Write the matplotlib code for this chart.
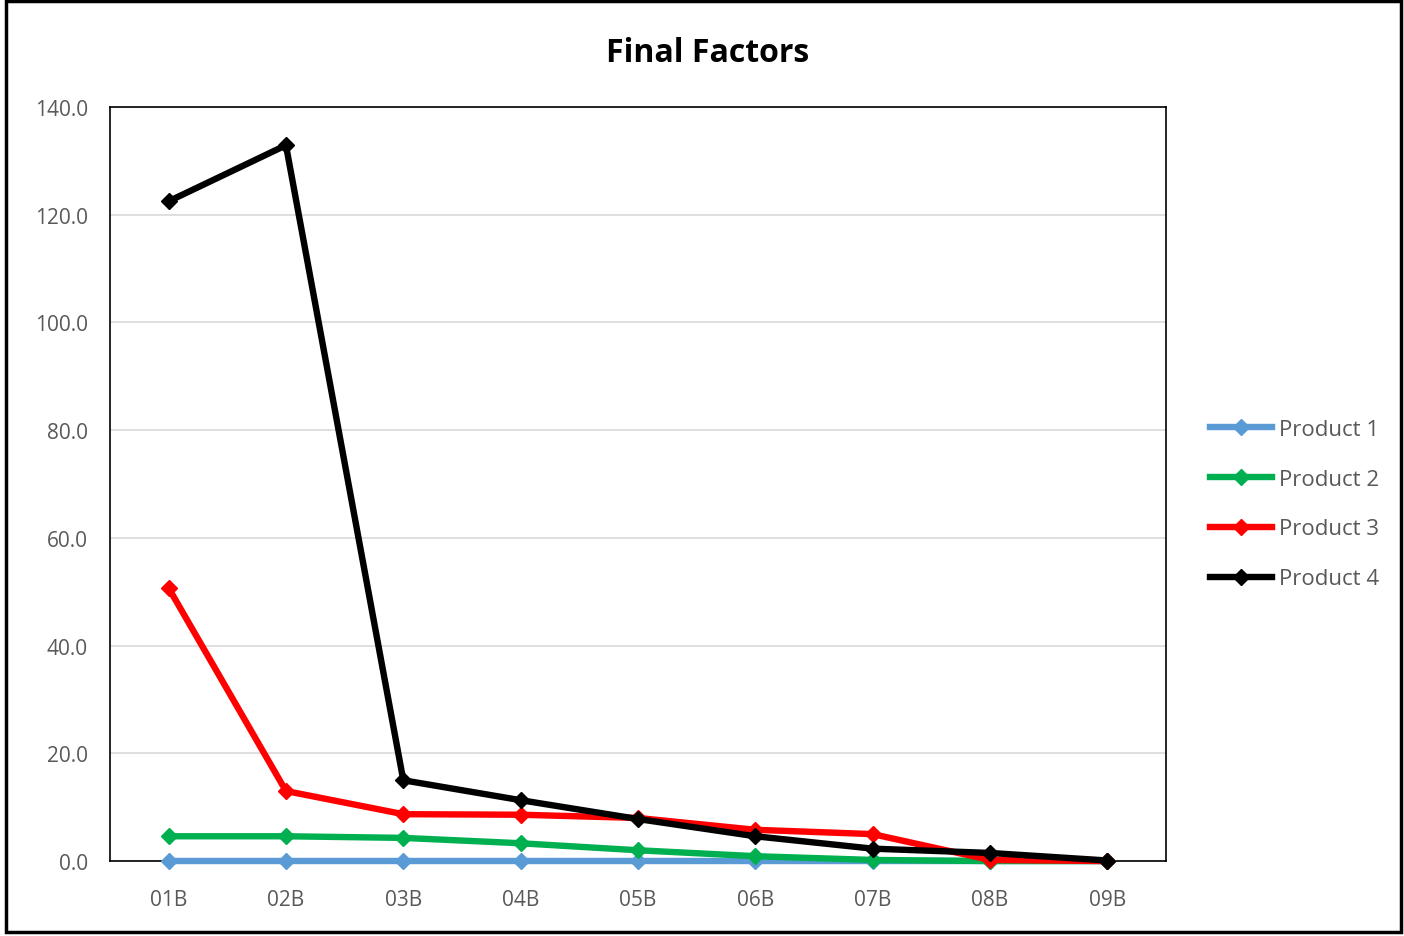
import matplotlib.pyplot as plt
from matplotlib.patches import Rectangle

categories = ["01B", "02B", "03B", "04B", "05B", "06B", "07B", "08B", "09B"]
product_1 = [0.1, 0.1, 0.1, 0.1, 0.1, 0.1, 0.1, 0.1, 0.1]
product_2 = [4.6, 4.6, 4.3, 3.3, 2.0, 0.9, 0.2, 0.0, 0.0]
product_3 = [50.7, 13.0, 8.7, 8.6, 8.0, 5.8, 5.0, 0.2, 0.0]
product_4 = [122.5, 132.9, 15.0, 11.3, 7.8, 4.6, 2.3, 1.5, 0.1]

series = [
    ("Product 1", product_1, "#5b9bd5"),
    ("Product 2", product_2, "#00b050"),
    ("Product 3", product_3, "#ff0000"),
    ("Product 4", product_4, "#000000"),
]

plt.rcParams["font.family"] = ["Open Sans", "DejaVu Sans"]

fig = plt.figure(figsize=(14.04, 9.37), dpi=100)
ax = fig.add_axes([0.0783, 0.080, 0.7522, 0.8047])

x = range(len(categories))
for i, (name, values, color) in enumerate(series):
    ax.plot(x, values, color=color, linewidth=4.6, marker="D", markersize=8,
            label=name, zorder=3 + i, clip_on=False)

ax.set_xlim(-0.5, len(categories) - 0.5)
ax.set_ylim(0, 140)
ax.set_yticks(range(0, 141, 20))
ax.set_yticklabels([f"{v:.1f}" for v in range(0, 141, 20)])
ax.set_xticks(list(x))
ax.set_xticklabels(categories)
ax.tick_params(axis="both", length=0, labelsize=15, colors="#595959")
ax.tick_params(axis="x", pad=20)
ax.tick_params(axis="y", pad=16)
ax.grid(axis="y", color="#d9d9d9", linewidth=1.2)
ax.set_axisbelow(True)
for spine in ax.spines.values():
    spine.set_color("black")
    spine.set_linewidth(1.2)
    spine.set_zorder(2)

fig.suptitle("Final Factors", x=0.504, y=0.961, fontsize=23, fontweight="bold")

leg = fig.legend(loc="center left", bbox_to_anchor=(0.8618, 0.461), frameon=False,
                 fontsize=16, labelcolor="#595959", handlelength=2.8,
                 labelspacing=1.3, handletextpad=0.3, borderpad=0,
                 borderaxespad=0)

fig.patches.append(Rectangle((0.004, 0.004), 0.994, 0.994, transform=fig.transFigure,
                             fill=False, edgecolor="black", linewidth=2.5))

fig.savefig("out.png", dpi=100)
